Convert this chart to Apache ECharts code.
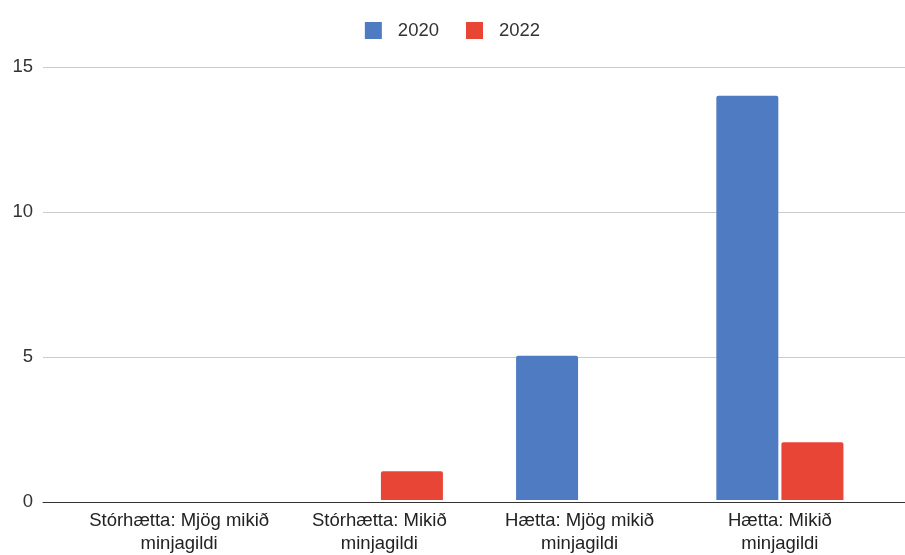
<!DOCTYPE html>
<html>
<head>
<meta charset="utf-8">
<script src="https://cdn.jsdelivr.net/npm/echarts@6/dist/echarts.min.js"></script>
<style>
html, body { margin: 0; padding: 0; background: #fff; }
#chart { width: 905px; height: 555px; }
</style>
</head>
<body>
<div id="chart"></div>
<script>
var categories = ['Stórhætta: Mjög mikið\nminjagildi', 'Stórhætta: Mikið\nminjagildi', 'Hætta: Mjög mikið\nminjagildi', 'Hætta: Mikið\nminjagildi'];
var values2020 = [0, 0, 5, 14];
var values2022 = [0, 1, 0, 2];
var yTicks = { min: 0, max: 15, interval: 5 };

var font = 'Liberation Sans, Arial, sans-serif';
var chart = echarts.init(document.getElementById('chart'));

chart.setOption({
    animation: false,
    legend: {
        top: 16,
        left: 'center',
        itemWidth: 17,
        itemHeight: 17,
        itemGap: 27,
        icon: 'rect',
        textStyle: { fontFamily: font, fontSize: 18.5, color: '#333', padding: [0, 0, 0, 11] },
        data: ['2020', '2022']
    },
    grid: [
        { left: 79, right: 25, top: 67, bottom: 53 },
        { left: 43, right: 0, top: 67, bottom: 53 }
    ],
    xAxis: [{
        gridIndex: 0,
        type: 'category',
        data: categories,
        axisLine: { show: false },
        axisTick: { show: false },
        axisLabel: {
            fontFamily: font, fontSize: 18.5, color: '#222',
            lineHeight: 23, margin: 9, interval: 0
        }
    }, {
        gridIndex: 1,
        type: 'value',
        min: 0, max: 1,
        axisLine: { show: true, lineStyle: { color: '#333', width: 1 } },
        axisTick: { show: false },
        axisLabel: { show: false },
        splitLine: { show: false }
    }],
    yAxis: [{
        gridIndex: 0,
        type: 'value',
        min: yTicks.min, max: yTicks.max, interval: yTicks.interval,
        show: false
    }, {
        gridIndex: 1,
        type: 'value',
        min: yTicks.min, max: yTicks.max, interval: yTicks.interval,
        axisLine: { show: false },
        axisTick: { show: false },
        axisLabel: { fontFamily: font, fontSize: 18.5, color: '#333', margin: 10 },
        splitLine: { lineStyle: { color: '#ccc', width: 1 } }
    }],
    series: [{
        name: '2020',
        type: 'bar',
        xAxisIndex: 0, yAxisIndex: 0,
        data: values2020,
        barWidth: 62,
        barGap: '5%',
        itemStyle: { color: '#4f7bc3', borderRadius: [2, 2, 0, 0] }
    }, {
        name: '2022',
        type: 'bar',
        xAxisIndex: 0, yAxisIndex: 0,
        data: values2022,
        barWidth: 62,
        barGap: '5%',
        itemStyle: { color: '#e94537', borderRadius: [2, 2, 0, 0] }
    }]
});
</script>
</body>
</html>
